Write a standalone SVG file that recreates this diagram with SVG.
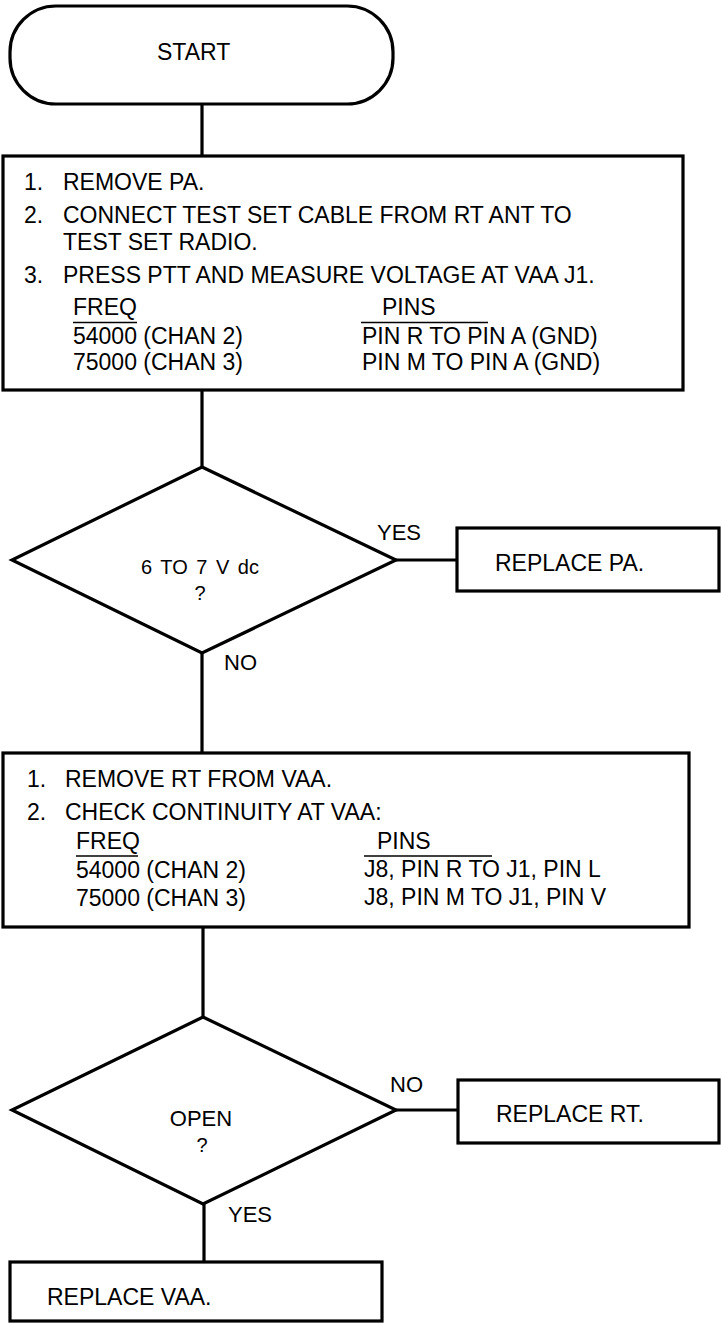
<svg xmlns="http://www.w3.org/2000/svg" width="721" height="1324" viewBox="0 0 721 1324">
<style>
text{font-family:"Liberation Sans",Arial,Helvetica,sans-serif;fill:#000;font-size:23px}
.lbl{font-size:22px}
.dtxt{font-size:20px;word-spacing:3px}
.q{font-size:20px}
.shape{fill:#fff;stroke:#000;stroke-width:3.2}
.conn{stroke:#000;stroke-width:3.2;fill:none}
.ul{stroke:#000;stroke-width:1.5}
.mid{text-anchor:middle}
</style>
<rect width="721" height="1324" fill="#fff"/>
<g id="connectors">
<line class="conn" x1="202" y1="104" x2="202" y2="156"/>
<line class="conn" x1="202" y1="390" x2="202" y2="467"/>
<line class="conn" x1="396" y1="560" x2="457" y2="560"/>
<line class="conn" x1="202" y1="653" x2="202" y2="753"/>
<line class="conn" x1="203" y1="927" x2="203" y2="1017"/>
<line class="conn" x1="396" y1="1110" x2="458" y2="1110"/>
<line class="conn" x1="204" y1="1204" x2="204" y2="1262"/>
<text class="lbl" x="377" y="540">YES</text>
<text class="lbl" x="224" y="670">NO</text>
<text class="lbl" x="390" y="1092">NO</text>
<text class="lbl" x="228" y="1222">YES</text>
</g>
<g id="start">
<rect class="shape" x="10" y="6" width="383" height="98" rx="46" ry="46"/>
<text x="157" y="60">START</text>
</g>
<g id="step1">
<rect class="shape" x="3" y="156" width="680" height="234"/>
<text x="24" y="190">1.</text><text x="63" y="190">REMOVE PA.</text>
<text x="24" y="223">2.</text><text x="63" y="223">CONNECT TEST SET CABLE FROM RT ANT TO</text>
<text x="63" y="250">TEST SET RADIO.</text>
<text x="24" y="283">3.</text><text x="63" y="283">PRESS PTT AND MEASURE VOLTAGE AT VAA J1.</text>
<text x="73" y="315">FREQ</text><text x="382" y="315">PINS</text>
<line class="ul" x1="73" y1="322.5" x2="137" y2="322.5"/>
<line class="ul" x1="361" y1="322.5" x2="488" y2="322.5"/>
<text x="73" y="344">54000 (CHAN 2)</text><text x="362" y="344">PIN R TO PIN A (GND)</text>
<text x="73" y="370">75000 (CHAN 3)</text><text x="362" y="370">PIN M TO PIN A (GND)</text>
</g>
<g id="decision1">
<polygon class="shape" points="202,467 396,560 202,653 12,560"/>
<text class="dtxt mid" x="200" y="574">6 TO 7 V dc</text>
<text class="q mid" x="200" y="600">?</text>
</g>
<g id="replacePA">
<rect class="shape" x="457" y="528" width="262" height="63"/>
<text x="495" y="571">REPLACE PA.</text>
</g>
<g id="step2">
<rect class="shape" x="3" y="753" width="686" height="174"/>
<text x="27" y="787">1.</text><text x="65" y="787">REMOVE RT FROM VAA.</text>
<text x="27" y="820">2.</text><text x="65" y="820">CHECK CONTINUITY AT VAA:</text>
<text x="76" y="849">FREQ</text><text x="377" y="849">PINS</text>
<line class="ul" x1="76" y1="856" x2="138" y2="856"/>
<line class="ul" x1="364" y1="856" x2="492" y2="856"/>
<text x="76" y="878">54000 (CHAN 2)</text><text x="364" y="877">J8, PIN R TO J1, PIN L</text>
<text x="76" y="906">75000 (CHAN 3)</text><text x="364" y="905">J8, PIN M TO J1, PIN V</text>
</g>
<g id="decision2">
<polygon class="shape" points="203,1017 396,1110 203,1204 12,1110"/>
<text class="lbl mid" x="201" y="1126">OPEN</text>
<text class="q mid" x="202" y="1152">?</text>
</g>
<g id="replaceRT">
<rect class="shape" x="458" y="1080" width="261" height="63"/>
<text x="496" y="1122">REPLACE RT.</text>
</g>
<g id="replaceVAA">
<rect class="shape" x="10" y="1262" width="372" height="59"/>
<text x="47" y="1305">REPLACE VAA.</text>
</g>
</svg>
